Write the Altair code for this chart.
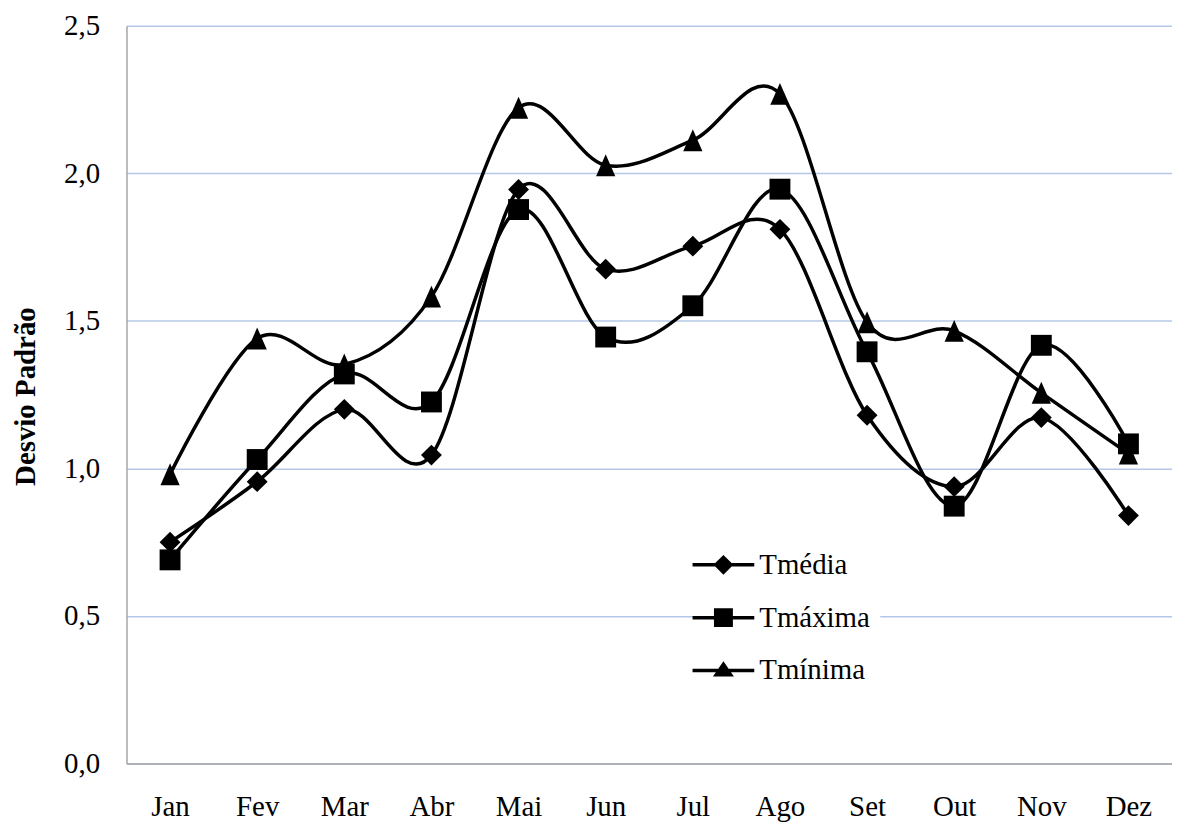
import altair as alt
import pandas as pd

meses = ["Jan", "Fev", "Mar", "Abr", "Mai", "Jun", "Jul", "Ago", "Set", "Out", "Nov", "Dez"]
series = ["Tmédia", "Tmáxima", "Tmínima"]
tmedia = [0.75, 0.955, 1.20, 1.045, 1.945, 1.675, 1.753, 1.81, 1.18, 0.938, 1.172, 0.84]
tmaxima = [0.69, 1.03, 1.32, 1.225, 1.877, 1.445, 1.551, 1.946, 1.395, 0.872, 1.417, 1.083]
tminima = [0.98, 1.44, 1.352, 1.582, 2.222, 2.027, 2.112, 2.269, 1.495, 1.466, 1.256, 1.05]
y_ticks = [0.0, 0.5, 1.0, 1.5, 2.0, 2.5]

rows = []
for nome, vals in zip(series, [tmedia, tmaxima, tminima]):
    for m, v in zip(meses, vals):
        rows.append({"mes": m, "serie": nome, "valor": v})
df = pd.DataFrame(rows)

FONT = "Liberation Serif"

# marker shapes on the chart
tri_path = "M0,-1.05L0.92,1.05L-0.92,1.05Z"
marker_range = ["diamond", "square", tri_path]

# legend symbols: line + marker (units of half the symbol box)
line_part = "M-2,-0.113H2V0.113H-2Z"
leg_paths = [
    line_part + "M0,-0.645L0.645,0L0,0.645L-0.645,0Z",
    line_part + "M-0.613,-0.613H0.613V0.613H-0.613Z",
    line_part + "M0,-0.6L0.68,0.39H-0.68Z",
]

x_enc = alt.X(
    "mes:O",
    sort=meses,
    scale=alt.Scale(type="point", padding=0.5),
    axis=alt.Axis(
        title=None, labelAngle=0, ticks=False, tickSize=0, labelPadding=29,
        labelFont=FONT, labelFontSize=29, labelColor="black",
        domainColor="#a6a6a6", domainWidth=1.5, grid=False,
    ),
)
y_enc = alt.Y(
    "valor:Q",
    scale=alt.Scale(domain=[0, 2.5], nice=False, zero=True),
    axis=alt.Axis(
        values=y_ticks,
        labelExpr="replace(format(datum.value, '.1f'), '.', ',')",
        title="Desvio Padrão", titleFont=FONT, titleFontSize=29,
        titleFontWeight="bold", titleColor="black", titleAngle=270,
        titleX=-92, titleY=372, titleAlign="center", titleBaseline="alphabetic",
        ticks=False, tickSize=0, labelPadding=27,
        labelFont=FONT, labelFontSize=29, labelColor="black",
        domainColor="#a6a6a6", domainWidth=1.5,
        grid=True, gridColor="#b4c7e7", gridWidth=1.5,
    ),
)

base = alt.Chart(df)

lines = base.mark_line(interpolate="cardinal", color="black", strokeWidth=3.5).encode(
    x=x_enc, y=y_enc, detail="serie:N"
)

points = base.mark_point(filled=True, color="black", size=440, opacity=1).encode(
    x=x_enc,
    y=y_enc,
    shape=alt.Shape("serie:N", scale=alt.Scale(domain=series, range=marker_range), legend=None),
)

legend_layer = base.transform_filter("datum.valor < 0").mark_point(
    filled=True, color="black"
).encode(
    x=x_enc,
    y=y_enc,
    shape=alt.Shape(
        "serie:N",
        scale=alt.Scale(domain=series, range=leg_paths),
        legend=alt.Legend(
            title=None, orient="none", legendX=574, legendY=516,
            labelFont=FONT, labelFontSize=29, labelColor="black",
            symbolSize=961, symbolFillColor="black", symbolStrokeWidth=0,
            symbolOpacity=1, labelOffset=20.5, rowPadding=22, padding=10,
            fillColor="white",
        ),
    ),
)

chart = (
    alt.layer(lines, points, legend_layer)
    .resolve_scale(shape="independent")
    .properties(
        width=1050,
        height=741,
        autosize=alt.AutoSizeParams(type="none"),
        padding={"left": 119, "top": 16, "right": 0, "bottom": 60},
        background="white",
    )
    .configure_view(stroke=None)
)

chart.save("out.html", embed_options={"renderer": "svg", "actions": False})
